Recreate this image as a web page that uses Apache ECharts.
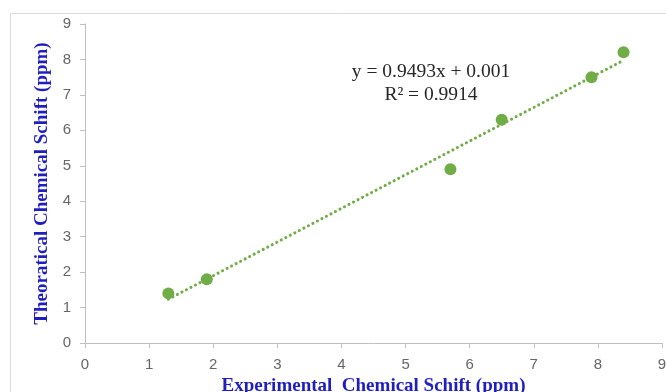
<!DOCTYPE html>
<html><head><meta charset="utf-8">
<script src="https://cdn.jsdelivr.net/npm/echarts@6/dist/echarts.min.js"></script>
<style>html,body{margin:0;padding:0;background:#fff}#c{width:666px;height:392px}</style>
</head><body><div id="c"></div>
<script>
var expX = [1.3, 1.9, 5.7, 6.5, 7.9, 8.4];
var theoY = [1.4, 1.8, 4.9, 6.3, 7.5, 8.2];
var slope = 0.9493, intercept = 0.001;
var trendX = [1.3, 8.4];
var eqText = 'y = 0.9493x + 0.001';
var r2Text = 'R² = 0.9914';
var xTitle = 'Experimental  Chemical Schift (ppm)';
var yTitle = 'Theoratical Chemical Schift (ppm)';

var pts = expX.map(function(x,i){return [x, theoY[i]];});
var trend = trendX.map(function(x){return [x, slope*x+intercept];});
var chart = echarts.init(document.getElementById('c'));
var axisCommon = {
  min:0, max:9, interval:1,
  axisLine:{show:true,lineStyle:{color:'#bfbfbf',width:1}},
  axisTick:{show:true,length:5,lineStyle:{color:'#bfbfbf'}},
  splitLine:{show:false},
  axisLabel:{color:'#666666',fontFamily:'Liberation Sans',fontSize:15}
};
chart.setOption({
  animation:false,
  grid:{left:85,right:4,top:24,bottom:49,containLabel:false,outerBoundsMode:'none'},
  xAxis: Object.assign({}, axisCommon, {type:'value',
    axisLabel:Object.assign({},axisCommon.axisLabel,{margin:14}),
    name:xTitle,nameLocation:'middle',nameGap:32,
    nameTextStyle:{color:'#1f1fbf',fontFamily:'Liberation Serif',fontWeight:'bold',fontSize:19}}),
  yAxis: Object.assign({}, axisCommon, {type:'value',
    axisLabel:Object.assign({},axisCommon.axisLabel,{margin:14}),
    name:yTitle,nameLocation:'middle',nameGap:31,
    nameTextStyle:{color:'#1f1fbf',fontFamily:'Liberation Serif',fontWeight:'bold',fontSize:19}}),
  graphic:[
    {type:'rect',shape:{x:10.5,y:13.5,width:700,height:500},style:{fill:'none',stroke:'#d9d9d9',lineWidth:1},z:-1},
    {type:'text',x:431,y:72,style:{text:eqText,fill:'#262626',font:'19.5px "Liberation Serif"',textAlign:'center',textVerticalAlign:'middle'}},
    {type:'text',x:431,y:95,style:{text:r2Text,fill:'#262626',font:'19.5px "Liberation Serif"',textAlign:'center',textVerticalAlign:'middle'}}
  ],
  series:[
    {type:'line',data:trend,symbol:'none',z:1,
     lineStyle:{color:'#70ad47',width:3,type:[0.1,5],cap:'round'}},
    {type:'scatter',data:pts,symbol:'circle',symbolSize:12,z:2,
     itemStyle:{color:'#70ad47',opacity:1}}
  ]
});
</script></body></html>
